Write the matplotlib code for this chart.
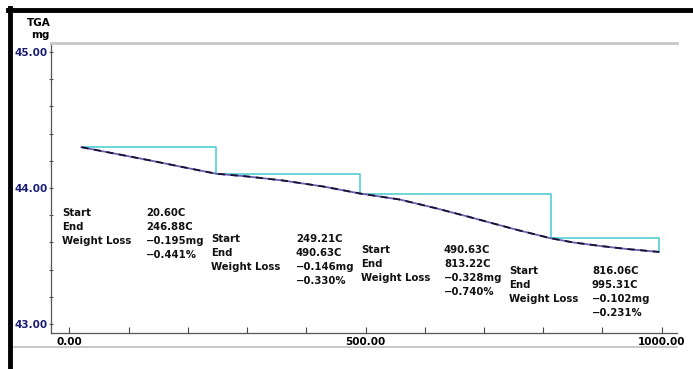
import matplotlib
matplotlib.use("Agg")
import matplotlib.pyplot as plt
from matplotlib.lines import Line2D
from matplotlib.ticker import MultipleLocator, FixedLocator

# TGA trace: temperature (C) and sample mass (mg)
temp_c = [20.6, 80, 136, 190, 248, 300, 361, 430, 490, 558, 620, 671,
          715, 756, 811, 850, 896, 940, 995.3]
mass_mg = [44.300, 44.250, 44.203, 44.155, 44.105, 44.085, 44.055, 44.010,
           43.960, 43.915, 43.850, 43.792, 43.740, 43.692, 43.632, 43.600,
           43.574, 43.552, 43.530]

# Weight-loss analysis steps
step_start = [20.60, 249.21, 490.63, 816.06]
step_end = [246.88, 490.63, 813.22, 995.31]
loss_mg = [0.195, 0.146, 0.328, 0.102]
loss_pct = [0.441, 0.330, 0.740, 0.231]

x_ticks = [0, 500, 1000]
x_tick_labels = ["0.00", "500.00", "1000.00"]
y_ticks = [43, 44, 45]
y_tick_labels = ["43.00", "44.00", "45.00"]

W, H = 693, 369
fig = plt.figure(figsize=(W / 100, H / 100), dpi=100)
fig.patch.set_facecolor("white")


def fx(px):
    return px / W


def fy(py):
    return 1 - py / H


ax = fig.add_axes([fx(51), fy(333), (677 - 51) / W, (333 - 43) / H])
ax.set_xlim(-30.9, 1025.8)
ax.set_ylim(42.934, 45.066)

# Stepped weight-loss guide
sx = [step_start[0]]
sy = [mass_mg[0]]
m = mass_mg[0]
for e, l in zip(step_end, loss_mg):
    sx += [e, e]
    sy += [m, m - l]
    m -= l
ax.plot(sx, sy, color="#52cfd6", lw=1.2, zorder=2)

# Mass curve
ax.plot(temp_c, mass_mg, color="#6a5cae", lw=1.3, zorder=3)
ax.plot(temp_c, mass_mg, color="#1a1030", lw=1.3, dashes=(4, 3), zorder=4)

# Axes styling
ax.spines["right"].set_visible(False)
ax.spines["top"].set_color("#c8c8c8")
ax.spines["top"].set_linewidth(2)
ax.spines["left"].set_color("#555555")
ax.spines["left"].set_linewidth(0.9)
ax.spines["bottom"].set_color("#555555")
ax.spines["bottom"].set_linewidth(0.9)

ax.xaxis.set_major_locator(FixedLocator(x_ticks))
ax.set_xticklabels(x_tick_labels)
ax.xaxis.set_minor_locator(MultipleLocator(100))
ax.tick_params(axis="x", which="both", direction="in", length=4.5,
               width=0.8, color="#444444", pad=3)
for t in ax.get_xticklabels():
    t.set_fontsize(7.5)
    t.set_fontweight("bold")
    t.set_color("black")

ax.yaxis.set_major_locator(FixedLocator(y_ticks))
ax.set_yticklabels(y_tick_labels)
ax.yaxis.set_minor_locator(MultipleLocator(0.2))
ax.tick_params(axis="y", which="both", direction="inout", length=3,
               width=0.8, color="#555555", pad=1)
for t in ax.get_yticklabels():
    t.set_fontsize(7.5)
    t.set_fontweight("bold")
    t.set_color("#1c1c78")

# Axis title
fig.text(fx(51), fy(23), "TGA", ha="right", va="center",
         fontsize=7.5, fontweight="bold")
fig.text(fx(50), fy(35), "mg", ha="right", va="center",
         fontsize=7.5, fontweight="bold")

# Step annotation blocks
blocks = [(62, 146, 213), (211, 296, 239), (361, 444, 250), (509, 592, 271)]
row = 14
for (lx, vx, y0), s, e, lm, lp in zip(blocks, step_start, step_end,
                                      loss_mg, loss_pct):
    labels = ["Start", "End", "Weight Loss"]
    values = [f"{s:.2f}C", f"{e:.2f}C", f"\u2212{lm:.3f}mg", f"\u2212{lp:.3f}%"]
    for i, lab in enumerate(labels):
        fig.text(fx(lx), fy(y0 + i * row), lab, ha="left", va="center",
                 fontsize=7.3, fontweight="bold", color="#111111")
    for i, val in enumerate(values):
        fig.text(fx(vx), fy(y0 + i * row), val, ha="left", va="center",
                 fontsize=7.3, fontweight="bold", color="#111111")

# Frame lines
fig.add_artist(Line2D([fx(12), fx(677)], [fy(347), fy(347)],
                      color="#bdbdbd", lw=1.2))
fig.add_artist(Line2D([fx(8), fx(693)], [fy(9.5), fy(9.5)],
                      color="black", lw=3.5))
fig.add_artist(Line2D([fx(10), fx(10)], [fy(8), fy(369)],
                      color="black", lw=3.5))

fig.savefig("out.png", dpi=100)
